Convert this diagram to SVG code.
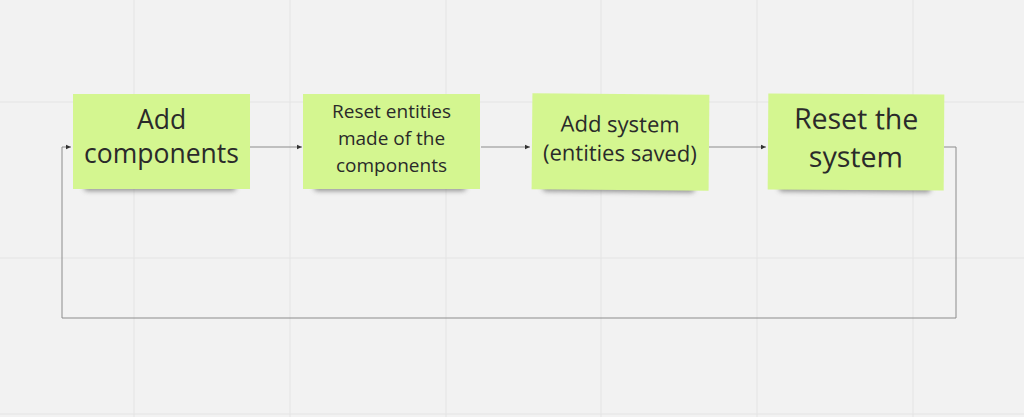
<svg xmlns="http://www.w3.org/2000/svg" width="1024" height="417" viewBox="0 0 1024 417">
<defs>
<style>
.grid{stroke:#e4e4e4;stroke-width:1}
.note{fill:#d4f690}
.shadow{fill:#6a6a6a;opacity:0.7;filter:url(#blur)}
.t{font-family:"Open Sans","Noto Sans",sans-serif;fill:#2a2a2a;text-anchor:middle}
.conn{fill:none;stroke:#8c8c8c;stroke-width:1}
</style>
<filter id="blur" x="-20%" y="-200%" width="140%" height="500%"><feGaussianBlur stdDeviation="2.5"/></filter>
<marker id="arr" markerWidth="6" markerHeight="6" refX="5" refY="3" orient="auto" markerUnits="userSpaceOnUse"><path d="M0,0.8 L5,3 L0,5.2 Z" fill="#333"/></marker>
</defs>
<rect width="1024" height="417" fill="#f2f2f2"/>
<g id="grid">
<line class="grid" x1="134" y1="0" x2="134" y2="417"/>
<line class="grid" x1="290" y1="0" x2="290" y2="417"/>
<line class="grid" x1="446" y1="0" x2="446" y2="417"/>
<line class="grid" x1="601" y1="0" x2="601" y2="417"/>
<line class="grid" x1="757" y1="0" x2="757" y2="417"/>
<line class="grid" x1="913" y1="0" x2="913" y2="417"/>
<line class="grid" x1="0" y1="102" x2="1024" y2="102"/>
<line class="grid" x1="0" y1="258" x2="1024" y2="258"/>
<line class="grid" x1="0" y1="414" x2="1024" y2="414"/>
</g>
<g id="connectors">
<path class="conn" d="M250,147 H302" marker-end="url(#arr)"/>
<path class="conn" d="M481,147 H530" marker-end="url(#arr)"/>
<path class="conn" d="M709,147 H766" marker-end="url(#arr)"/>
<path class="conn" d="M944,147 H956 V318 H62 V147 H71" marker-end="url(#arr)"/>
</g>
<g id="node1">
<rect class="shadow" x="84" y="182" width="152" height="9" rx="4"/>
<rect class="note" x="73" y="94" width="177" height="95"/>
<text class="t" font-size="26.5"><tspan x="161.5" y="129">Add</tspan><tspan x="161.5" y="163">components</tspan></text>
</g>
<g id="node2">
<rect class="shadow" x="314" y="182" width="152" height="9" rx="4"/>
<rect class="note" x="303" y="94" width="177" height="95"/>
<text class="t" font-size="19"><tspan x="391.5" y="118">Reset entities</tspan><tspan x="391.5" y="145">made of the</tspan><tspan x="391.5" y="172">components</tspan></text>
</g>
<g id="node3" transform="rotate(0.5 620 142)">
<rect class="shadow" x="543" y="183" width="152" height="9" rx="4"/>
<rect class="note" x="532" y="94" width="177" height="96"/>
<text class="t" font-size="22"><tspan x="620" y="132">Add system</tspan><tspan x="620" y="161">(entities saved)</tspan></text>
</g>
<g id="node4" transform="rotate(0.4 856 142)">
<rect class="shadow" x="779" y="183" width="152" height="9" rx="4"/>
<rect class="note" x="768" y="94" width="176" height="96"/>
<text class="t" font-size="28.5"><tspan x="856" y="129">Reset the</tspan><tspan x="856" y="167">system</tspan></text>
</g>
</svg>
